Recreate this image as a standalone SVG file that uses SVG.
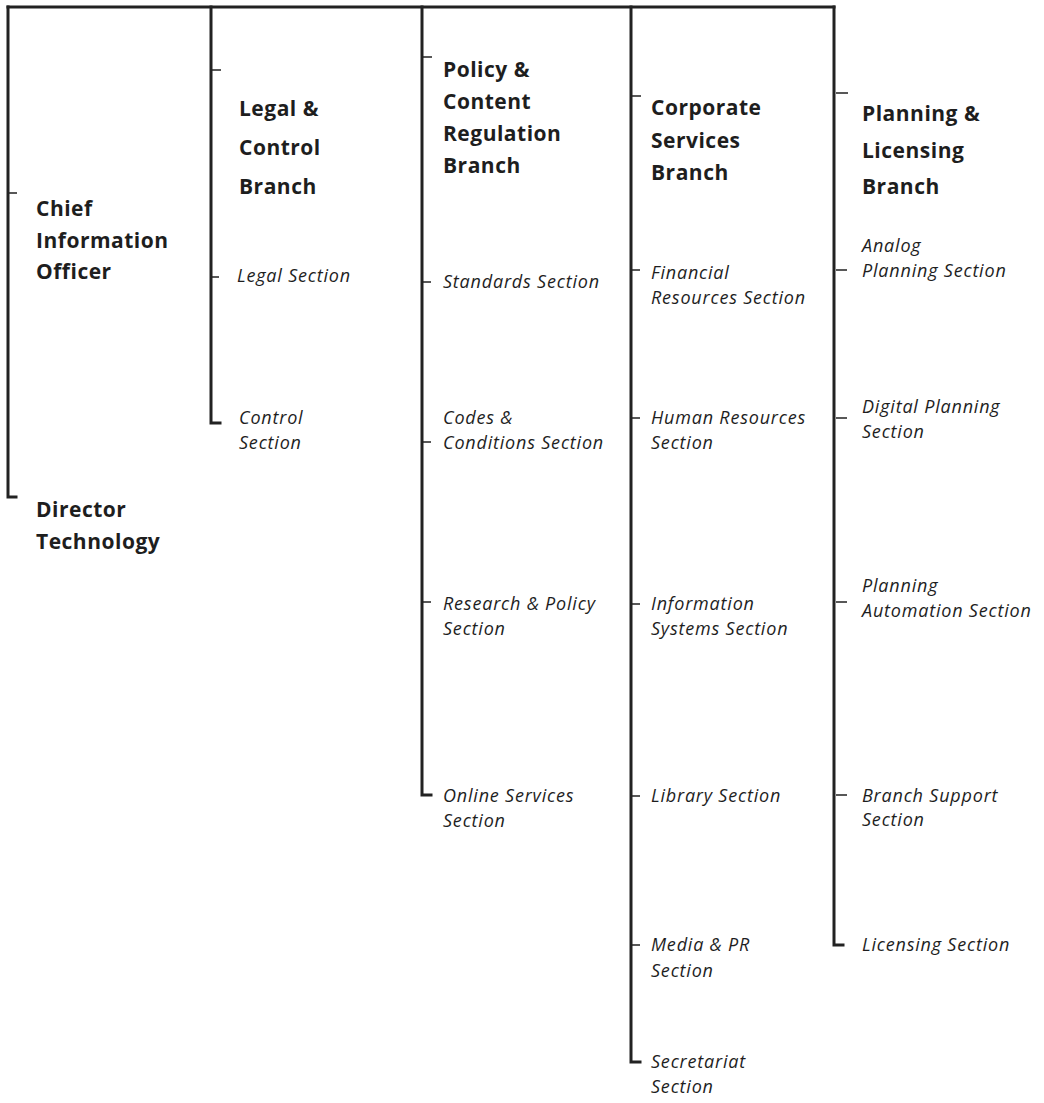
<svg xmlns="http://www.w3.org/2000/svg" width="1044" height="1103" viewBox="0 0 1044 1103">
<style>
.ln{stroke:#222;stroke-width:3;fill:none;stroke-linecap:square}
.tk{stroke:#222;stroke-width:1.6;fill:none}
.b{font-family:"Open Sans","Liberation Sans",sans-serif;font-weight:bold;font-size:21px;letter-spacing:0.5px;fill:#1e1e1e}
.i{font-family:"Open Sans","Liberation Sans",sans-serif;font-style:italic;font-size:18px;letter-spacing:0.8px;fill:#1e1e1e}
</style>
<rect width="1044" height="1103" fill="#fff"/>
<g id="connectors">
<path class="ln" d="M8,7 H834"/>
<path class="ln" d="M8,7 V497 H16"/>
<path class="ln" d="M211,7 V423 H220"/>
<path class="ln" d="M422,7 V795 H431"/>
<path class="ln" d="M631,7 V1062 H640"/>
<path class="ln" d="M834,7 V945 H843"/>
<path class="tk" d="M8,193 H17 M211,70 H221 M211,277 H219 M422,57 H432 M422,282 H431 M422,442 H431 M422,602 H431 M631,96 H641 M631,270 H640 M631,418 H640 M631,604 H640 M631,796 H640 M631,945 H640 M836,93 H848 M836,270 H847 M836,418 H847 M836,602 H847 M836,795 H847"/>
</g>
<g id="cio"><text class="b" x="36" y="216">Chief</text><text class="b" x="36" y="248">Information</text><text class="b" x="36" y="279">Officer</text></g>
<g id="director-technology"><text class="b" x="36" y="517">Director</text><text class="b" x="36" y="549">Technology</text></g>
<g id="legal-control-branch"><text class="b" x="239" y="116">Legal &amp;</text><text class="b" x="239" y="155">Control</text><text class="b" x="239" y="194">Branch</text></g>
<g id="legal-section"><text class="i" x="237" y="282">Legal Section</text></g>
<g id="control-section"><text class="i" x="239" y="424">Control</text><text class="i" x="239" y="449">Section</text></g>
<g id="policy-branch"><text class="b" x="443" y="77">Policy &amp;</text><text class="b" x="443" y="109">Content</text><text class="b" x="443" y="141">Regulation</text><text class="b" x="443" y="173">Branch</text></g>
<g id="standards-section"><text class="i" x="443" y="288">Standards Section</text></g>
<g id="codes-section"><text class="i" x="443" y="424">Codes &amp;</text><text class="i" x="443" y="449">Conditions Section</text></g>
<g id="research-section"><text class="i" x="443" y="610">Research &amp; Policy</text><text class="i" x="443" y="635">Section</text></g>
<g id="online-section"><text class="i" x="443" y="802">Online Services</text><text class="i" x="443" y="827">Section</text></g>
<g id="corporate-branch"><text class="b" x="651" y="115">Corporate</text><text class="b" x="651" y="148">Services</text><text class="b" x="651" y="180">Branch</text></g>
<g id="financial-section"><text class="i" x="651" y="279">Financial</text><text class="i" x="651" y="304">Resources Section</text></g>
<g id="hr-section"><text class="i" x="651" y="424">Human Resources</text><text class="i" x="651" y="449">Section</text></g>
<g id="is-section"><text class="i" x="651" y="610">Information</text><text class="i" x="651" y="635">Systems Section</text></g>
<g id="library-section"><text class="i" x="651" y="802">Library Section</text></g>
<g id="media-section"><text class="i" x="651" y="951">Media &amp; PR</text><text class="i" x="651" y="977">Section</text></g>
<g id="secretariat-section"><text class="i" x="651" y="1068">Secretariat</text><text class="i" x="651" y="1093">Section</text></g>
<g id="planning-branch"><text class="b" x="862" y="121">Planning &amp;</text><text class="b" x="862" y="158">Licensing</text><text class="b" x="862" y="194">Branch</text></g>
<g id="analog-section"><text class="i" x="862" y="252">Analog</text><text class="i" x="862" y="277">Planning Section</text></g>
<g id="digital-section"><text class="i" x="862" y="413">Digital Planning</text><text class="i" x="862" y="438">Section</text></g>
<g id="automation-section"><text class="i" x="862" y="592">Planning</text><text class="i" x="862" y="617">Automation Section</text></g>
<g id="branch-support-section"><text class="i" x="862" y="802">Branch Support</text><text class="i" x="862" y="826">Section</text></g>
<g id="licensing-section"><text class="i" x="862" y="951">Licensing Section</text></g>
</svg>
